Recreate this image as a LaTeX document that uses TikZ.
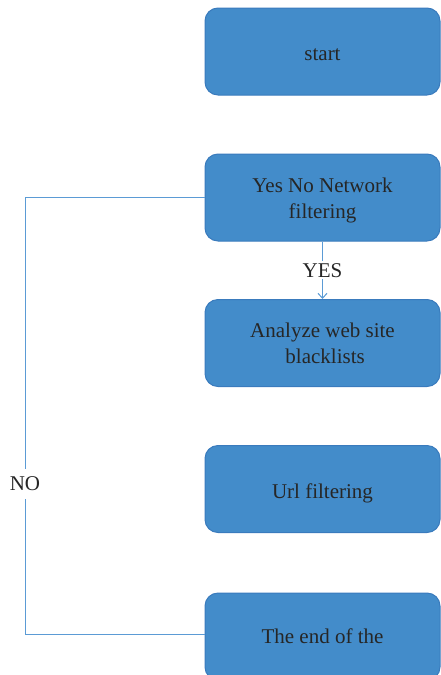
\documentclass[tikz,border=0pt]{standalone}
\usepackage{fontspec}
\setmainfont{Liberation Serif}
\usetikzlibrary{arrows.meta}
\definecolor{boxfill}{HTML}{438CCA}
\definecolor{boxline}{HTML}{3A7BBD}
\definecolor{conn}{HTML}{5B9BD5}
\definecolor{txt}{HTML}{262626}
\newcommand{\lowtext}[1]{\raisebox{0pt}[26pt][8pt]{#1}}
\begin{document}
\begin{tikzpicture}[x=1pt,y=1pt,
  flowbox/.style={draw=boxline, line width=1pt, fill=boxfill, rounded corners=13pt,
    minimum width=235pt, minimum height=87pt, align=center, text=txt,
    font=\fontsize{21}{26}\selectfont, inner sep=0pt},
  conline/.style={draw=conn, line width=1pt},
  lbl/.style={text=txt, font=\fontsize{21}{24}\selectfont, fill=white, inner sep=2pt}]
\useasboundingbox (0,0) rectangle (441,-675);
\node[flowbox] (b1) at (322.5,-51.5) {\lowtext{start}};
\node[flowbox] (b2) at (322.5,-197.5) {\raisebox{0pt}[20pt][0pt]{Yes No Network}\\filtering};
\node[flowbox] (b3) at (322.5,-343) {Analyze web site\\\ blacklists};
\node[flowbox] (b4) at (322.5,-489) {\lowtext{Url filtering}};
\node[flowbox] (b5) at (322.5,-636.5) {The end of the};
\coordinate (c1) at (25,-197.5);
\coordinate (c2) at (25,-634.5);
\draw[conline, -{Straight Barb[length=5pt,width=9pt]}] (b2.south) -- node[lbl]{YES} (b3.north);
\draw[conline] (b2.west) -- (c1) -- node[lbl, pos=0.655, inner ysep=8pt]{NO} (c2) -- (b5.west |- c2);
\end{tikzpicture}
\end{document}
